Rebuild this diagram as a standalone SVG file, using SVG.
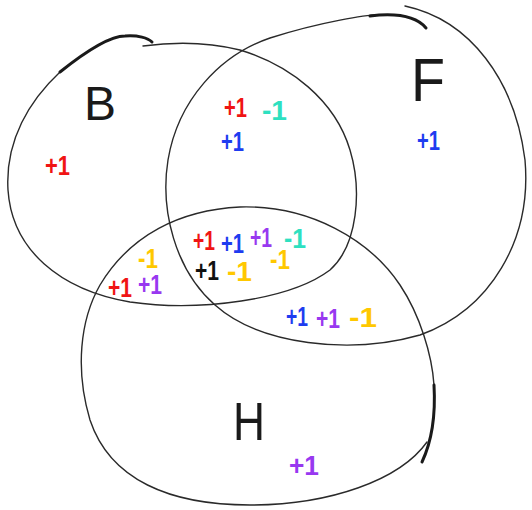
<svg xmlns="http://www.w3.org/2000/svg" width="532" height="510" viewBox="0 0 532 510">
<style>
.o{fill:none;stroke:#2a2a2a;stroke-width:1.4;stroke-linecap:round}
.k{fill:none;stroke:#1a1a1a;stroke-width:3;stroke-linecap:round}
.lab{font-family:"Liberation Sans",Arial,sans-serif;fill:#1a1a1a}
.v{font-family:"Liberation Sans",Arial,sans-serif;font-size:28px;font-weight:bold}
.r{fill:#f01414}.b{fill:#1e3cf0}.t{fill:#2ee0c0}.p{fill:#9838f0}.y{fill:#ffc800}.n{fill:#111}
</style>
<rect width="532" height="510" fill="#fff"/>
<g id="set-B">
<path class="o" d="M 143,46 C 165,43 200,40 240,50 C 290,65 335,100 350,150 C 362,190 358,245 330,270 C 290,300 200,312 130,302 C 60,290 12,250 8,190 C 5,140 30,100 60,72"/>
<path class="k" d="M 60,72 C 85,52 110,36 125,36 C 138,35 148,38 152,42"/>
<text class="lab" x="84" y="120" font-size="48" textLength="32" lengthAdjust="spacingAndGlyphs">B</text>
</g>
<g id="set-F">
<path class="o" d="M 405,6 C 470,20 515,80 525,160 C 532,240 490,310 420,335 C 350,355 260,345 215,305 C 175,270 160,210 168,160 C 178,100 220,55 270,38 C 320,22 370,14 380,15"/>
<path class="k" d="M 370,16 C 395,13 415,15 426,28"/>
<text class="lab" x="411" y="101" font-size="62" textLength="34" lengthAdjust="spacingAndGlyphs">F</text>
</g>
<g id="set-H">
<path class="o" d="M 427,442 C 400,480 330,505 250,505 C 170,505 110,480 90,420 C 75,370 80,320 100,285 C 130,235 180,210 240,207 C 310,205 370,240 400,285 C 420,315 432,355 434,385"/>
<path class="k" d="M 434,385 C 436,420 430,445 422,462"/>
<text class="lab" x="233" y="440" font-size="54" textLength="32" lengthAdjust="spacingAndGlyphs">H</text>
</g>
<g id="values" class="v">
<text class="r" x="45" y="175" textLength="25" lengthAdjust="spacingAndGlyphs">+1</text>
<text class="b" x="417" y="150" textLength="23" lengthAdjust="spacingAndGlyphs">+1</text>
<text class="r" x="224" y="117" textLength="23" lengthAdjust="spacingAndGlyphs">+1</text>
<text class="t" x="262" y="120" textLength="25" lengthAdjust="spacingAndGlyphs">-1</text>
<text class="b" x="221" y="151" textLength="23" lengthAdjust="spacingAndGlyphs">+1</text>
<text class="r" x="193" y="250" textLength="22" lengthAdjust="spacingAndGlyphs">+1</text>
<text class="b" x="221" y="253" textLength="23" lengthAdjust="spacingAndGlyphs">+1</text>
<text class="p" x="250" y="247" textLength="22" lengthAdjust="spacingAndGlyphs">+1</text>
<text class="t" x="284" y="248" textLength="22" lengthAdjust="spacingAndGlyphs">-1</text>
<text class="n" x="195" y="280" textLength="24" lengthAdjust="spacingAndGlyphs">+1</text>
<text class="y" x="227" y="281" textLength="25" lengthAdjust="spacingAndGlyphs">-1</text>
<text class="y" x="270" y="269" textLength="20" lengthAdjust="spacingAndGlyphs">-1</text>
<text class="y" x="138" y="268" textLength="20" lengthAdjust="spacingAndGlyphs">-1</text>
<text class="r" x="108" y="297" textLength="24" lengthAdjust="spacingAndGlyphs">+1</text>
<text class="p" x="138" y="294" textLength="24" lengthAdjust="spacingAndGlyphs">+1</text>
<text class="b" x="286" y="326" textLength="22" lengthAdjust="spacingAndGlyphs">+1</text>
<text class="p" x="316" y="328" textLength="24" lengthAdjust="spacingAndGlyphs">+1</text>
<text class="y" x="349" y="327" textLength="28" lengthAdjust="spacingAndGlyphs">-1</text>
<text class="p" x="289" y="475" textLength="30" lengthAdjust="spacingAndGlyphs">+1</text>
</g>
</svg>
